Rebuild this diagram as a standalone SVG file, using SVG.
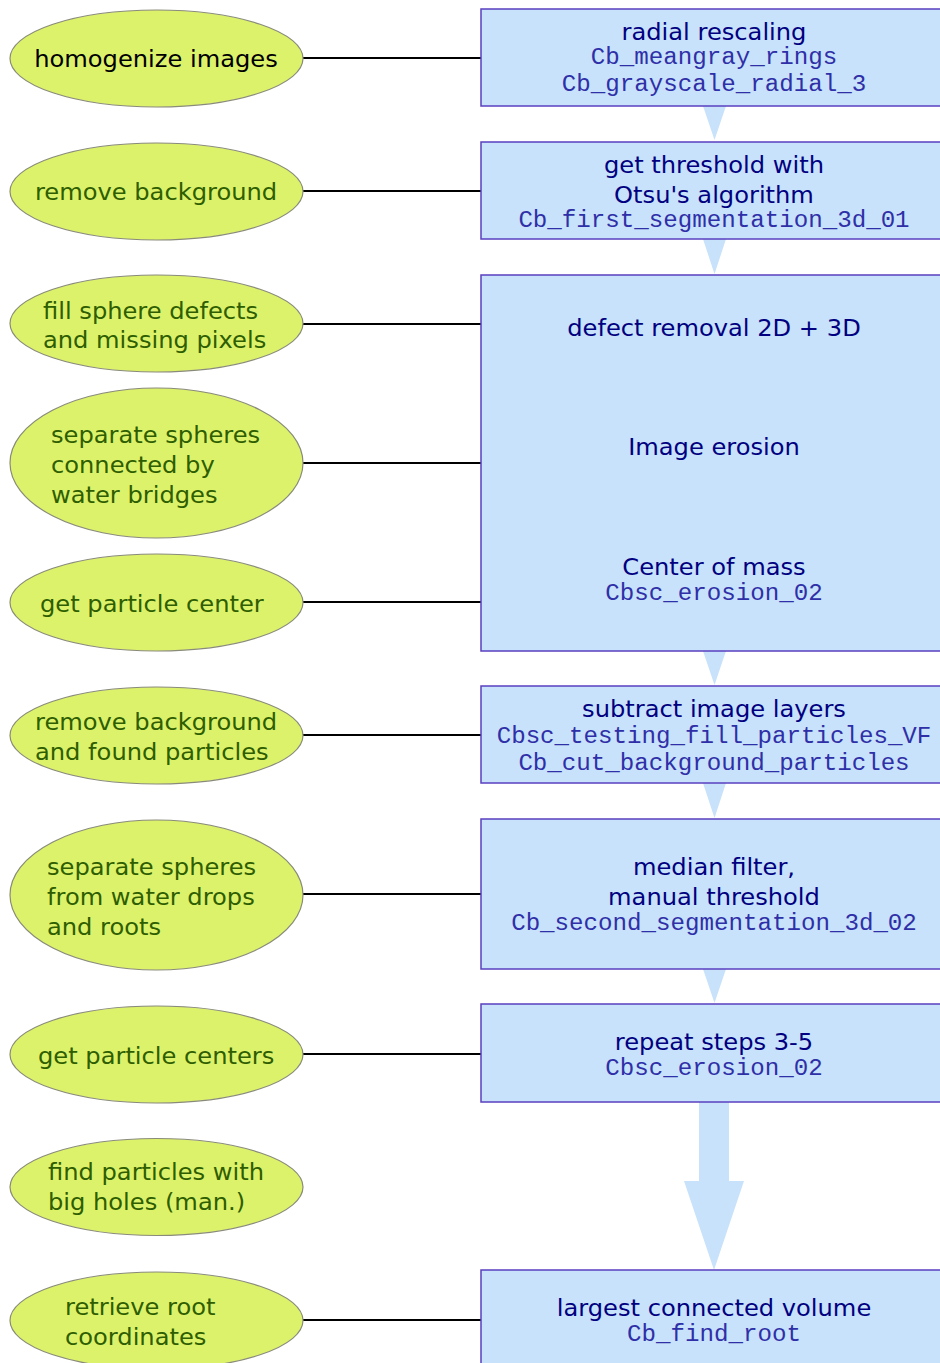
<svg xmlns="http://www.w3.org/2000/svg" width="940" height="1363" viewBox="0 0 940 1363">
<style>
.ell{fill:#ddf26b;stroke:#8a8a7a;stroke-width:1.2}
.box{fill:#c7e2fa;stroke:#5a3fc0;stroke-width:1.5}
.flow{fill:#c7e2fa}
.con{stroke:#000;stroke-width:2.2;fill:none}
.t{font-family:"DejaVu Sans",Verdana,sans-serif;font-size:23px}
.dk{fill:#000}
.gr{fill:#2e5e00}
.nv{fill:#000080}
.mono{font-family:"Liberation Mono","Courier New",monospace;font-size:23px;fill:#2f2fa8}
</style>
<rect width="940" height="1363" fill="#fff"/>

<g id="flow-arrows">
<polygon class="flow" points="703,106 726,106 714.5,140"/>
<polygon class="flow" points="703,239 726,239 714.5,274"/>
<polygon class="flow" points="703,651 726,651 714.5,685"/>
<polygon class="flow" points="703,783 726,783 714.5,818"/>
<polygon class="flow" points="703,969 726,969 714.5,1003"/>
<polygon class="flow" points="699,1102 729,1102 729,1181 744,1181 714,1270 684,1181 699,1181"/>
</g>

<g id="connectors">
<line class="con" x1="303" y1="58" x2="481" y2="58"/>
<line class="con" x1="303" y1="191" x2="481" y2="191"/>
<line class="con" x1="302" y1="324" x2="481" y2="324"/>
<line class="con" x1="303" y1="463" x2="481" y2="463"/>
<line class="con" x1="303" y1="602" x2="481" y2="602"/>
<line class="con" x1="302" y1="735" x2="481" y2="735"/>
<line class="con" x1="303" y1="894" x2="481" y2="894"/>
<line class="con" x1="303" y1="1054" x2="481" y2="1054"/>
<line class="con" x1="303" y1="1320" x2="481" y2="1320"/>
</g>

<g id="e1"><ellipse class="ell" cx="156.5" cy="58.5" rx="146.5" ry="48.5"/>
<text class="t dk" text-anchor="middle" transform="translate(156,67) scale(1.05,1)">homogenize images</text></g>
<g id="e2"><ellipse class="ell" cx="156.5" cy="191.5" rx="146.5" ry="48.5"/>
<text class="t gr" text-anchor="middle" transform="translate(156,200) scale(1.05,1)">remove background</text></g>
<g id="e3"><ellipse class="ell" cx="156.5" cy="323.5" rx="146.5" ry="48.5"/>
<text class="t gr" transform="translate(43,319) scale(1.05,1)"><tspan x="0" y="0">fill sphere defects</tspan><tspan x="0" y="29">and missing pixels</tspan></text></g>
<g id="e4"><ellipse class="ell" cx="156.5" cy="463" rx="146.5" ry="75"/>
<text class="t gr" transform="translate(51,443) scale(1.05,1)"><tspan x="0" y="0">separate spheres</tspan><tspan x="0" y="30">connected by</tspan><tspan x="0" y="60">water bridges</tspan></text></g>
<g id="e5"><ellipse class="ell" cx="156.5" cy="602.5" rx="146.5" ry="48.5"/>
<text class="t gr" transform="translate(40,612) scale(1.05,1)">get particle center</text></g>
<g id="e6"><ellipse class="ell" cx="156.5" cy="735.5" rx="146.5" ry="48.5"/>
<text class="t gr" transform="translate(35,730) scale(1.05,1)"><tspan x="0" y="0">remove background</tspan><tspan x="0" y="30">and found particles</tspan></text></g>
<g id="e7"><ellipse class="ell" cx="156.5" cy="895" rx="146.5" ry="75"/>
<text class="t gr" transform="translate(47,875) scale(1.05,1)"><tspan x="0" y="0">separate spheres</tspan><tspan x="0" y="30">from water drops</tspan><tspan x="0" y="60">and roots</tspan></text></g>
<g id="e8"><ellipse class="ell" cx="156.5" cy="1054.5" rx="146.5" ry="48.5"/>
<text class="t gr" transform="translate(38,1064) scale(1.05,1)">get particle centers</text></g>
<g id="e9"><ellipse class="ell" cx="156.5" cy="1187" rx="146.5" ry="48.5"/>
<text class="t gr" transform="translate(48,1180) scale(1.05,1)"><tspan x="0" y="0">find particles with</tspan><tspan x="0" y="30">big holes (man.)</tspan></text></g>
<g id="e10"><ellipse class="ell" cx="156.5" cy="1320.5" rx="146.5" ry="48.5"/>
<text class="t gr" transform="translate(65,1315) scale(1.05,1)"><tspan x="0" y="0">retrieve root</tspan><tspan x="0" y="30">coordinates</tspan></text></g>

<g id="b1"><rect class="box" x="481" y="9" width="470" height="97"/>
<g transform="translate(714,0) scale(1.05,1)" text-anchor="middle">
<text class="t nv" x="0" y="40">radial rescaling</text>
<text class="mono" x="0" y="64">Cb_meangray_rings</text>
<text class="mono" x="0" y="91">Cb_grayscale_radial_3</text></g></g>

<g id="b2"><rect class="box" x="481" y="142" width="470" height="97"/>
<g transform="translate(714,0) scale(1.05,1)" text-anchor="middle">
<text class="t nv" x="0" y="173">get threshold with</text>
<text class="t nv" x="0" y="203">Otsu's algorithm</text>
<text class="mono" x="0" y="227">Cb_first_segmentation_3d_01</text></g></g>

<g id="b3"><rect class="box" x="481" y="275" width="470" height="376"/>
<g transform="translate(714,0) scale(1.05,1)" text-anchor="middle">
<text class="t nv" x="0" y="336">defect removal 2D + 3D</text>
<text class="t nv" x="0" y="455">Image erosion</text>
<text class="t nv" x="0" y="575">Center of mass</text>
<text class="mono" x="0" y="600">Cbsc_erosion_02</text></g></g>

<g id="b4"><rect class="box" x="481" y="686" width="470" height="97"/>
<g transform="translate(714,0) scale(1.05,1)" text-anchor="middle">
<text class="t nv" x="0" y="717">subtract image layers</text>
<text class="mono" x="0" y="743">Cbsc_testing_fill_particles_VF</text>
<text class="mono" x="0" y="770">Cb_cut_background_particles</text></g></g>

<g id="b5"><rect class="box" x="481" y="819" width="470" height="150"/>
<g transform="translate(714,0) scale(1.05,1)" text-anchor="middle">
<text class="t nv" x="0" y="875">median filter,</text>
<text class="t nv" x="0" y="905">manual threshold</text>
<text class="mono" x="0" y="930">Cb_second_segmentation_3d_02</text></g></g>

<g id="b6"><rect class="box" x="481" y="1004" width="470" height="98"/>
<g transform="translate(714,0) scale(1.05,1)" text-anchor="middle">
<text class="t nv" x="0" y="1050">repeat steps 3-5</text>
<text class="mono" x="0" y="1075">Cbsc_erosion_02</text></g></g>

<g id="b7"><rect class="box" x="481" y="1270" width="470" height="110"/>
<g transform="translate(714,0) scale(1.05,1)" text-anchor="middle">
<text class="t nv" x="0" y="1316">largest connected volume</text>
<text class="mono" x="0" y="1341">Cb_find_root</text></g></g>
</svg>
